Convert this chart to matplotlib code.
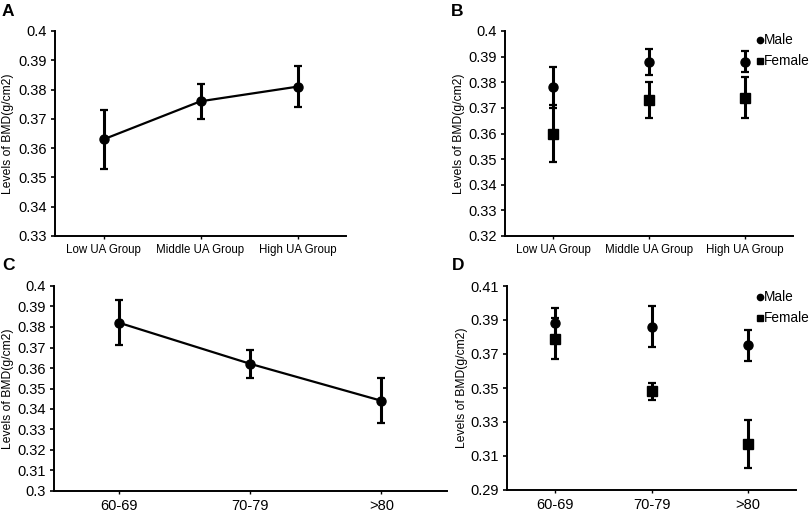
import matplotlib
matplotlib.use("Agg")
import matplotlib.pyplot as plt
import numpy as np

plt.rcParams['font.family'] = ['Liberation Sans', 'DejaVu Sans']

# ---- data ----
ua_groups = ["Low UA Group", "Middle UA Group", "High UA Group"]
age_groups = ["60-69", "70-79", ">80"]

a_mean = [0.363, 0.376, 0.381]
a_err = [0.010, 0.006, 0.007]

b_male = [0.378, 0.388, 0.388]
b_male_err = [0.008, 0.005, 0.004]
b_female = [0.360, 0.373, 0.374]
b_female_err = [0.011, 0.007, 0.008]

c_mean = [0.382, 0.362, 0.344]
c_err = [0.011, 0.007, 0.011]

d_male = [0.388, 0.386, 0.375]
d_male_err = [0.009, 0.012, 0.009]
d_female = [0.379, 0.348, 0.317]
d_female_err = [0.012, 0.005, 0.014]

a_ticks = [0.33, 0.34, 0.35, 0.36, 0.37, 0.38, 0.39, 0.4]
b_ticks = [0.32, 0.33, 0.34, 0.35, 0.36, 0.37, 0.38, 0.39, 0.4]
c_ticks = [0.3, 0.31, 0.32, 0.33, 0.34, 0.35, 0.36, 0.37, 0.38, 0.39, 0.4]
d_ticks = [0.29, 0.31, 0.33, 0.35, 0.37, 0.39, 0.41]

W, H = 810, 514
fig = plt.figure(figsize=(W / 100, H / 100), dpi=100)


def add_ax(left, top, right, bottom):
    return fig.add_axes([left / W, 1 - bottom / H, (right - left) / W, (bottom - top) / H])


def style(ax, ticks, labels, xfs, left_px, right_px, label_x_px):
    ax.set_xlim(-0.5, 2.5)
    ax.set_ylim(ticks[0], ticks[-1])
    ax.set_yticks(ticks)
    ax.set_yticklabels([("%g" % t) for t in ticks], fontsize=10.5)
    ax.set_xticks(range(3))
    ax.set_xticklabels(labels, fontsize=xfs)
    for s in ["top", "right"]:
        ax.spines[s].set_visible(False)
    for s in ["left", "bottom"]:
        ax.spines[s].set_linewidth(1.4)
    ax.tick_params(axis="y", direction="out", length=3, width=1.2, pad=3)
    ax.tick_params(axis="x", direction="out", length=2, width=1.0, pad=4)
    ax.set_ylabel("Levels of BMD(g/cm2)", fontsize=8.7)
    ax.yaxis.set_label_coords((label_x_px - left_px) / (right_px - left_px), 0.5)
    ax.patch.set_alpha(0)


eb_kw = dict(color="black", elinewidth=2.2, capsize=3, capthick=1.6)

# Panel A
axA = add_ax(55, 31, 346, 236)
axA.errorbar(range(3), a_mean, yerr=a_err, fmt="-o", markersize=6.5, linewidth=1.6, **eb_kw)
style(axA, a_ticks, ua_groups, 8.3, 55, 346, 14)

# Panel B
axB = add_ax(505, 31, 793, 236)
axB.errorbar(range(3), b_male, yerr=b_male_err, fmt="o", markersize=6.5, **eb_kw)
axB.errorbar(range(3), b_female, yerr=b_female_err, fmt="s", markersize=6.5, **eb_kw)
style(axB, b_ticks, ua_groups, 8.3, 505, 793, 465)

# Panel C
axC = add_ax(54, 286, 447, 491)
axC.errorbar(range(3), c_mean, yerr=c_err, fmt="-o", markersize=6.5, linewidth=1.6, **eb_kw)
style(axC, c_ticks, age_groups, 10.5, 54, 447, 14)

# Panel D
axD = add_ax(507, 286, 796, 490)
axD.errorbar(range(3), d_male, yerr=d_male_err, fmt="o", markersize=6.5, **eb_kw)
axD.errorbar(range(3), d_female, yerr=d_female_err, fmt="s", markersize=6.5, **eb_kw)
style(axD, d_ticks, age_groups, 10.5, 507, 796, 468)


def legend_entry(x, y, marker, text):
    fig.lines.append(plt.Line2D([x / W], [1 - y / H], marker=marker, color="black",
                                markersize=4.5, linestyle="none", transform=fig.transFigure))
    fig.text((x + 4) / W, 1 - y / H, text, fontsize=9.8, va="center", ha="left")


legend_entry(760, 40, "o", "Male")
legend_entry(760, 61, "s", "Female")
legend_entry(760, 297, "o", "Male")
legend_entry(760, 318, "s", "Female")

# Panel letters
for x, y, t in [(2, 11, "A"), (451, 11, "B"), (2, 265, "C"), (452, 265, "D")]:
    fig.text(x / W, 1 - y / H, t, fontsize=12.5, fontweight="bold", va="center", ha="left")

fig.savefig("out.png", dpi=100)
